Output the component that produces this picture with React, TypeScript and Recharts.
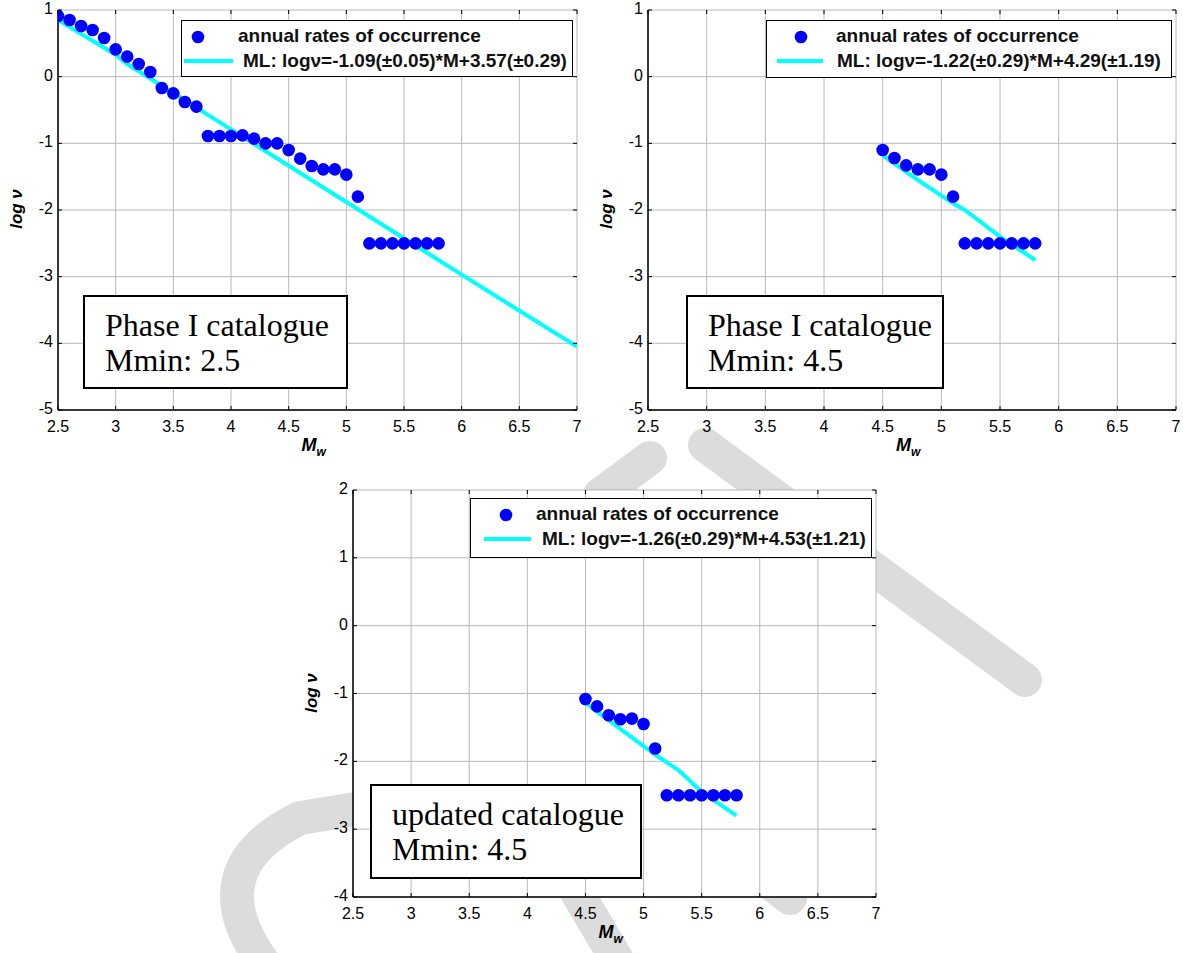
import React from "react";
import { ScatterChart, Scatter, XAxis, YAxis, CartesianGrid } from "recharts";

// axis ticks
const magTicks = [2.5, 3, 3.5, 4, 4.5, 5, 5.5, 6, 6.5, 7];
const logTicksTop = [-5, -4, -3, -2, -1, 0, 1];
const logTicksBottom = [-4, -3, -2, -1, 0, 1, 2];

// Phase I catalogue, Mmin 2.5
const magPhase1 = [2.5, 2.6, 2.7, 2.8, 2.9, 3.0, 3.1, 3.2, 3.3, 3.4, 3.5, 3.6, 3.7, 3.8, 3.9, 4.0, 4.1, 4.2, 4.3, 4.4, 4.5, 4.6, 4.7, 4.8, 4.9, 5.0, 5.1, 5.2, 5.3, 5.4, 5.5, 5.6, 5.7, 5.8];
const ratePhase1 = [0.91, 0.85, 0.76, 0.7, 0.58, 0.41, 0.3, 0.19, 0.07, -0.17, -0.25, -0.38, -0.45, -0.89, -0.89, -0.89, -0.88, -0.93, -1.0, -1.0, -1.1, -1.23, -1.34, -1.39, -1.39, -1.47, -1.8, -2.5, -2.5, -2.5, -2.5, -2.5, -2.5, -2.5];
const fitMagPhase1 = [2.5, 3.0, 3.1, 4.0, 5.0, 6.0, 7.0];
const fitRatePhase1 = [0.85, 0.33, 0.19, -0.79, -1.88, -2.97, -4.05];

// Phase I catalogue, Mmin 4.5
const magMin45 = [4.5, 4.6, 4.7, 4.8, 4.9, 5.0, 5.1, 5.2, 5.3, 5.4, 5.5, 5.6, 5.7, 5.8];
const ratePhase1M45 = [-1.1, -1.22, -1.33, -1.39, -1.39, -1.47, -1.8, -2.5, -2.5, -2.5, -2.5, -2.5, -2.5, -2.5];
const fitMagPhase1M45 = [4.5, 4.8, 5.1, 5.2, 5.5, 5.8];
const fitRatePhase1M45 = [-1.18, -1.55, -1.9, -2.0, -2.4, -2.75];

// updated catalogue, Mmin 4.5
const rateUpdated = [-1.08, -1.19, -1.32, -1.38, -1.37, -1.45, -1.81, -2.5, -2.5, -2.5, -2.5, -2.5, -2.5, -2.5];
const fitMagUpdated = [4.5, 4.8, 5.1, 5.3, 5.5, 5.8];
const fitRateUpdated = [-1.14, -1.52, -1.9, -2.13, -2.45, -2.8];

const pts = (xs: number[], ys: number[]) => xs.map((m, i) => ({ m, v: ys[i] }));

const SANS = "'Liberation Sans', Arial, sans-serif";
const SERIF = "'Liberation Serif', 'Times New Roman', serif";

type PanelProps = {
    left: number; top: number; width: number; height: number;
    margin: { top: number; right: number; bottom: number; left: number };
    yDomain: [number, number]; yTicks: number[];
    points: { m: number; v: number }[]; fit: { m: number; v: number }[];
    fitLabel: string;
    legend: { left: number; top: number; width: number; height: number; dot: number; text1: number; line: [number, number]; text2: number };
    note: { left: number; top: number; width: number; height: number; lines: string[] };
};

function Panel(p: PanelProps) {
    const plotW = p.width - p.margin.left - p.margin.right - 30;
    const plotH = p.height - p.margin.top - p.margin.bottom - 30;
    const plotX = p.margin.left + 30;
    const plotY = p.margin.top;

    // matlab-ish inward ticks on all four sides
    const xTick = (t: any) => (
        <g>
            <line x1={t.x} x2={t.x} y1={plotY + plotH} y2={plotY + plotH - 4} stroke="#000" />
            <line x1={t.x} x2={t.x} y1={plotY} y2={plotY + 4} stroke="#000" />
            <text x={t.x} y={plotY + plotH + 22} textAnchor="middle" fontSize={16} fontFamily={SANS} fill="#000">{t.payload.value}</text>
        </g>
    );
    const yTick = (t: any) => (
        <g>
            <line x1={plotX} x2={plotX + 4} y1={t.y} y2={t.y} stroke="#000" />
            <line x1={plotX + plotW} x2={plotX + plotW - 4} y1={t.y} y2={t.y} stroke="#000" />
            <text x={plotX - 5} y={t.y + 4} textAnchor="end" fontSize={16} fontFamily={SANS} fill="#000">{t.payload.value}</text>
        </g>
    );

    const lg = p.legend;

    return (
        <div style={{ position: "absolute", left: p.left, top: p.top, width: p.width, height: p.height }}>
            <ScatterChart width={p.width} height={p.height} margin={p.margin}>
                <CartesianGrid stroke="#b8b8b8" fill="#fff" />
                <XAxis type="number" dataKey="m" domain={[2.5, 7]} ticks={magTicks} height={30} tick={xTick} tickLine={false} axisLine={{ stroke: "#000", strokeWidth: 1.5 }} allowDataOverflow />
                <XAxis xAxisId="top" orientation="top" type="number" domain={[2.5, 7]} height={0} tick={false} tickLine={false} axisLine={{ stroke: "#000", strokeWidth: 1.5 }} />
                <YAxis type="number" dataKey="v" domain={p.yDomain} ticks={p.yTicks} width={30} tick={yTick} tickLine={false} axisLine={{ stroke: "#000", strokeWidth: 1.5 }} allowDataOverflow />
                <YAxis yAxisId="right" orientation="right" type="number" domain={p.yDomain} width={0} tick={false} tickLine={false} axisLine={{ stroke: "#000", strokeWidth: 1.5 }} />
                <Scatter data={p.fit} fill="none" line={{ stroke: "#00ffff", strokeWidth: 4 }} shape={() => <g />} isAnimationActive={false} legendType="none" />
                <Scatter data={p.points} fill="#0000ff" shape={(s: any) => <circle cx={s.cx} cy={s.cy} r={6.3} fill="#0000ff" />} isAnimationActive={false} />
            </ScatterChart>
            {/* legend box */}
            <div style={{ position: "absolute", left: lg.left, top: lg.top, width: lg.width, height: lg.height, border: "1.5px solid #000", background: "#fff", boxSizing: "border-box", fontFamily: SANS, fontWeight: "bold", fontSize: 19, color: "#111", whiteSpace: "nowrap" }}>
                <svg width={lg.width} height={lg.height} style={{ position: "absolute", left: 0, top: 0 }}>
                    <circle cx={lg.dot} cy={16} r={6.3} fill="#0000ff" />
                    <line x1={lg.line[0]} x2={lg.line[1]} y1={40} y2={40} stroke="#00ffff" strokeWidth={4} />
                </svg>
                <span style={{ position: "absolute", left: lg.text1, top: 4 }}>annual rates of occurrence</span>
                <span style={{ position: "absolute", left: lg.text2, top: 29 }}>{p.fitLabel}</span>
            </div>
            <div style={{ position: "absolute", left: p.note.left, top: p.note.top, width: p.note.width, height: p.note.height, border: "2px solid #000", background: "#fff", boxSizing: "border-box", fontFamily: SERIF, fontSize: 32, lineHeight: "35px", padding: "11px 0 0 20px", color: "#000", whiteSpace: "nowrap" }}>
                {p.note.lines.map((l) => <div key={l}>{l}</div>)}
            </div>
            <div style={{ position: "absolute", left: plotX - 70, top: plotY + plotH / 2 - 12, width: 60, height: 22, transform: "rotate(-90deg)", textAlign: "center", fontFamily: SANS, fontWeight: "bold", fontStyle: "italic", fontSize: 17 }}>log ν</div>
            <div style={{ position: "absolute", left: plotX + plotW / 2 - 16, top: plotY + plotH + 25, fontFamily: SANS, fontWeight: "bold", fontStyle: "italic", fontSize: 18 }}>
                M<sub style={{ fontSize: 12 }}>w</sub>
            </div>
        </div>
    );
}

export default function App() {
    return (
        <div style={{ position: "absolute", left: 0, top: 0, width: 1183, height: 953, background: "#fff", overflow: "hidden" }}>
            {/* faint watermark strokes behind the axes */}
            <svg width={1183} height={953} style={{ position: "absolute", left: 0, top: 0 }}>
                <g stroke="#dcdcdc" strokeWidth={34} strokeLinecap="round" fill="none">
                    <line x1={705} y1={445} x2={1025} y2={680} />
                    <line x1={600} y1={495} x2={650} y2={458} />
                    <line x1={555} y1={855} x2={620} y2={965} />
                    <line x1={740} y1={860} x2={790} y2={898} />
                    <path d="M 265 965 Q 195 870 300 818 L 380 805" />
                </g>
            </svg>
            <Panel
                left={0} top={0} width={600} height={470}
                margin={{ top: 10, right: 23, bottom: 30, left: 28 }}
                yDomain={[-5, 1]} yTicks={logTicksTop}
                points={pts(magPhase1, ratePhase1)} fit={pts(fitMagPhase1, fitRatePhase1)}
                fitLabel="ML: logν=-1.09(±0.05)*M+3.57(±0.29)"
                legend={{ left: 181, top: 20, width: 392, height: 57, dot: 16, text1: 56, line: [2, 51], text2: 61 }}
                note={{ left: 83, top: 295, width: 265, height: 94, lines: ["Phase I catalogue", "Mmin: 2.5"] }}
            />
            <Panel
                left={590} top={0} width={593} height={470}
                margin={{ top: 10, right: 7, bottom: 30, left: 28 }}
                yDomain={[-5, 1]} yTicks={logTicksTop}
                points={pts(magMin45, ratePhase1M45)} fit={pts(fitMagPhase1M45, fitRatePhase1M45)}
                fitLabel="ML: logν=-1.22(±0.29)*M+4.29(±1.19)"
                legend={{ left: 176, top: 20, width: 406, height: 58, dot: 34, text1: 69, line: [10, 56], text2: 70 }}
                note={{ left: 96, top: 295, width: 258, height: 94, lines: ["Phase I catalogue", "Mmin: 4.5"] }}
            />
            <Panel
                left={295} top={480} width={590} height={473}
                margin={{ top: 10, right: 9, bottom: 26, left: 28 }}
                yDomain={[-4, 2]} yTicks={logTicksBottom}
                points={pts(magMin45, rateUpdated)} fit={pts(fitMagUpdated, fitRateUpdated)}
                fitLabel="ML: logν=-1.26(±0.29)*M+4.53(±1.21)"
                legend={{ left: 175, top: 18, width: 402, height: 60, dot: 35, text1: 65, line: [13, 60], text2: 71 }}
                note={{ left: 75, top: 304, width: 272, height: 95, lines: ["updated catalogue", "Mmin: 4.5"] }}
            />
        </div>
    );
}
